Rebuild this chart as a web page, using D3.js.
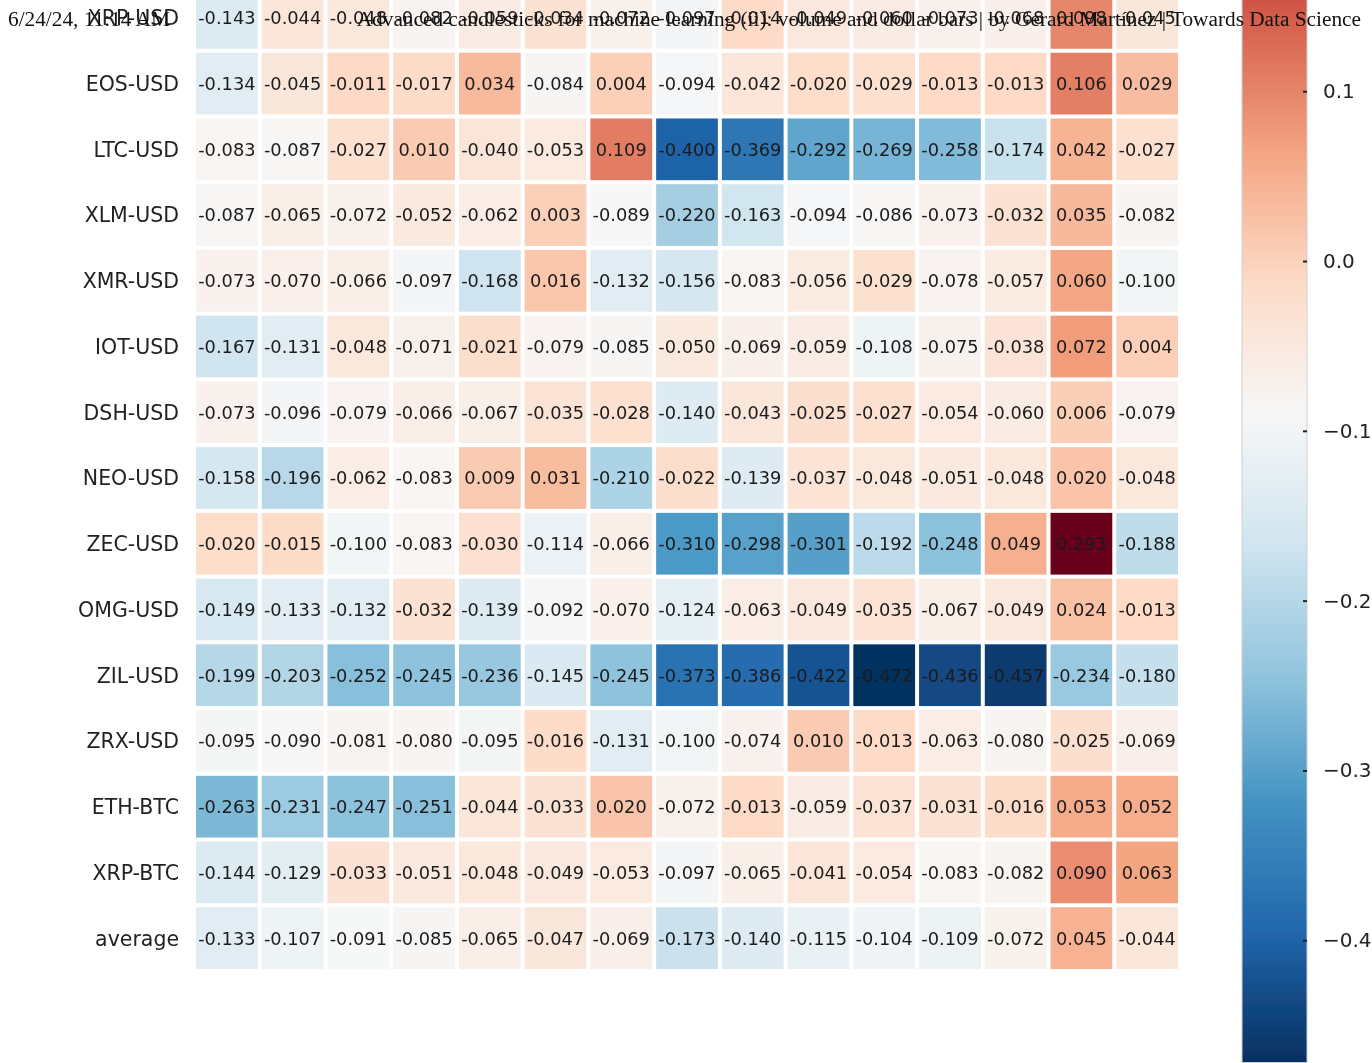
<!DOCTYPE html>
<html>
<head>
<meta charset="utf-8">
<script src="https://cdn.jsdelivr.net/npm/d3@7"></script>
<style>
  html, body { margin: 0; padding: 0; background: #ffffff; }
  svg { display: block; }
</style>
</head>
<body>
<svg id="chart" width="1372" height="1063"></svg>
<script>
// Row labels of the correlation matrix (top to bottom)
const rowLabels = [
  "XRP-USD", "EOS-USD", "LTC-USD", "XLM-USD", "XMR-USD", "IOT-USD", "DSH-USD",
  "NEO-USD", "ZEC-USD", "OMG-USD", "ZIL-USD", "ZRX-USD", "ETH-BTC", "XRP-BTC", "average"
];

// Correlation values, one array per row, 15 columns each
const corrValues = [
  [-0.143, -0.044, -0.048, -0.082, -0.059, -0.034, -0.072, -0.097, -0.014, -0.049, -0.060, -0.073, -0.068, 0.098, -0.045],
  [-0.134, -0.045, -0.011, -0.017, 0.034, -0.084, 0.004, -0.094, -0.042, -0.020, -0.029, -0.013, -0.013, 0.106, 0.029],
  [-0.083, -0.087, -0.027, 0.010, -0.040, -0.053, 0.109, -0.400, -0.369, -0.292, -0.269, -0.258, -0.174, 0.042, -0.027],
  [-0.087, -0.065, -0.072, -0.052, -0.062, 0.003, -0.089, -0.220, -0.163, -0.094, -0.086, -0.073, -0.032, 0.035, -0.082],
  [-0.073, -0.070, -0.066, -0.097, -0.168, 0.016, -0.132, -0.156, -0.083, -0.056, -0.029, -0.078, -0.057, 0.060, -0.100],
  [-0.167, -0.131, -0.048, -0.071, -0.021, -0.079, -0.085, -0.050, -0.069, -0.059, -0.108, -0.075, -0.038, 0.072, 0.004],
  [-0.073, -0.096, -0.079, -0.066, -0.067, -0.035, -0.028, -0.140, -0.043, -0.025, -0.027, -0.054, -0.060, 0.006, -0.079],
  [-0.158, -0.196, -0.062, -0.083, 0.009, 0.031, -0.210, -0.022, -0.139, -0.037, -0.048, -0.051, -0.048, 0.020, -0.048],
  [-0.020, -0.015, -0.100, -0.083, -0.030, -0.114, -0.066, -0.310, -0.298, -0.301, -0.192, -0.248, 0.049, 0.293, -0.188],
  [-0.149, -0.133, -0.132, -0.032, -0.139, -0.092, -0.070, -0.124, -0.063, -0.049, -0.035, -0.067, -0.049, 0.024, -0.013],
  [-0.199, -0.203, -0.252, -0.245, -0.236, -0.145, -0.245, -0.373, -0.386, -0.422, -0.472, -0.436, -0.457, -0.234, -0.180],
  [-0.095, -0.090, -0.081, -0.080, -0.095, -0.016, -0.131, -0.100, -0.074, 0.010, -0.013, -0.063, -0.080, -0.025, -0.069],
  [-0.263, -0.231, -0.247, -0.251, -0.044, -0.033, 0.020, -0.072, -0.013, -0.059, -0.037, -0.031, -0.016, 0.053, 0.052],
  [-0.144, -0.129, -0.033, -0.051, -0.048, -0.049, -0.053, -0.097, -0.065, -0.041, -0.054, -0.083, -0.082, 0.090, 0.063],
  [-0.133, -0.107, -0.091, -0.085, -0.065, -0.047, -0.069, -0.173, -0.140, -0.115, -0.104, -0.109, -0.072, 0.045, -0.044]
];

// Colour bar tick values
const colorbarTicks = [0.1, 0.0, -0.1, -0.2, -0.3, -0.4];

// Page header texts
const headerDate = "6/24/24, 11:14 AM";
const headerTitle = "Advanced candlesticks for machine learning (ii): volume and dollar bars | by Gerard Martínez | Towards Data Science";

// RdBu ColorBrewer stops, ordered from low (blue) to high (red)
const rdBuStops = ["#053061", "#2166ac", "#4393c3", "#92c5de", "#d1e5f0", "#f7f7f7",
                   "#fddbc7", "#f4a582", "#d6604d", "#b2182b", "#67001f"];

const svg = d3.select("#chart");

const defs = svg.append("defs");
defs.append("filter").attr("id", "soft")
  .attr("x", "-5%").attr("y", "-5%").attr("width", "110%").attr("height", "110%")
  .append("feGaussianBlur").attr("stdDeviation", 0.55);

const columns = d3.range(corrValues[0].length);
const cells = corrValues.flatMap((row, r) => row.map((v, c) => ({ row: rowLabels[r], col: c, value: v })));

const [vmin, vmax] = d3.extent(cells, d => d.value);

// Linear segmented colour scale, like a reversed RdBu colormap
const color = d3.scaleLinear()
  .domain(rdBuStops.map((_, i) => vmin + i * (vmax - vmin) / (rdBuStops.length - 1)))
  .range(rdBuStops)
  .interpolate(d3.interpolateRgb)
  .clamp(true);

const x = d3.scaleBand().domain(columns).range([194, 1180]);
const y = d3.scaleBand().domain(rowLabels).range([-15, 971]);
const gap = 4;

const chart = svg.append("g").attr("filter", "url(#soft)");

// Heatmap cells
chart.append("g").selectAll("rect")
  .data(cells)
  .join("rect")
  .attr("x", d => x(d.col) + gap / 2)
  .attr("y", d => y(d.row) + gap / 2)
  .attr("width", x.bandwidth() - gap)
  .attr("height", y.bandwidth() - gap)
  .attr("fill", d => color(d.value));

// Cell annotations
chart.append("g").selectAll("text")
  .data(cells)
  .join("text")
  .attr("x", d => x(d.col) + x.bandwidth() / 2)
  .attr("y", d => y(d.row) + y.bandwidth() / 2)
  .attr("dy", "0.36em")
  .attr("text-anchor", "middle")
  .attr("font-family", "DejaVu Sans, sans-serif")
  .attr("font-size", 17.8)
  .attr("fill", "#1a1a1a")
  .text(d => d.value.toFixed(3));

// Row labels via a left axis
const yAxis = chart.append("g")
  .attr("transform", "translate(189,0)")
  .call(d3.axisLeft(y).tickSize(0).tickPadding(10));
yAxis.select(".domain").remove();
yAxis.selectAll("text")
  .attr("font-family", "DejaVu Sans, sans-serif")
  .attr("font-size", 20.5)
  .attr("fill", "#222")
  .attr("dy", "0.36em");

// Colour bar
const cbX = 1242, cbW = 65;
const cbY = d3.scaleLinear().domain([vmin, vmax]).range([1062.5, -236.5]);

const grad = defs.append("linearGradient")
  .attr("id", "cbGrad")
  .attr("gradientUnits", "userSpaceOnUse")
  .attr("x1", 0).attr("x2", 0)
  .attr("y1", cbY(vmin)).attr("y2", cbY(vmax));
grad.selectAll("stop")
  .data(color.domain())
  .join("stop")
  .attr("offset", d => (d - vmin) / (vmax - vmin))
  .attr("stop-color", d => color(d));

chart.append("rect")
  .attr("x", cbX)
  .attr("y", cbY(vmax))
  .attr("width", cbW)
  .attr("height", cbY(vmin) - cbY(vmax))
  .attr("fill", "url(#cbGrad)")
  .attr("stroke", "#d0d0d0")
  .attr("stroke-width", 1);

const cbAxis = chart.append("g")
  .attr("transform", `translate(${cbX + cbW},0)`)
  .call(d3.axisRight(cbY).tickValues(colorbarTicks).tickFormat(d3.format(".1f")).tickSize(4).tickPadding(12));
cbAxis.select(".domain").remove();
cbAxis.selectAll(".tick line")
  .attr("x1", -4).attr("x2", 0)
  .attr("stroke", "#222").attr("stroke-width", 2);
cbAxis.selectAll("text")
  .attr("font-family", "DejaVu Sans, sans-serif")
  .attr("font-size", 20)
  .attr("fill", "#222");

// Page header drawn over the chart
const header = svg.append("g")
  .attr("font-family", "Liberation Serif, Times New Roman, serif")
  .attr("font-size", 21.3)
  .attr("fill", "#111");
header.append("text").attr("x", 8).attr("y", 26).text(headerDate);
header.append("text").attr("x", 1361).attr("y", 26).attr("text-anchor", "end").text(headerTitle);
</script>
</body>
</html>
